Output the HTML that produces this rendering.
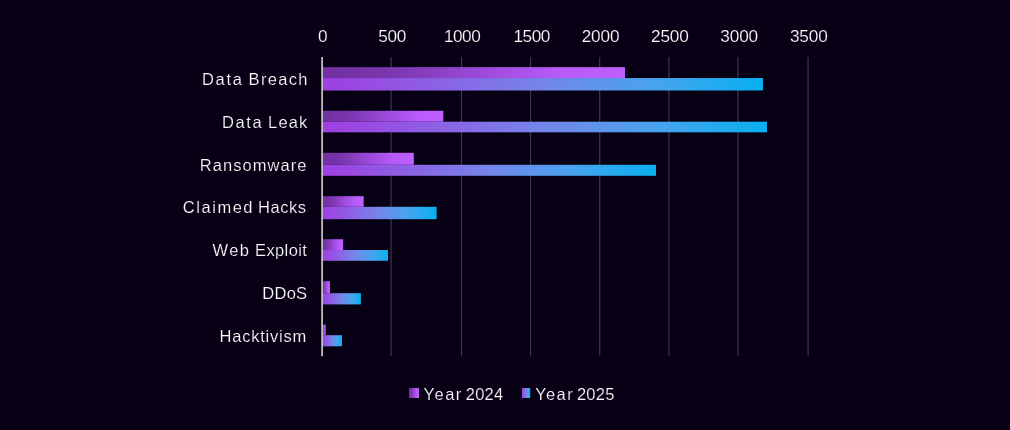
<!DOCTYPE html>
<html lang="en">
<head>
<meta charset="utf-8">
<title>Chart</title>
<style>
html,body{margin:0;padding:0;background:#080115;}
body{width:1010px;height:430px;overflow:hidden;}
svg{display:block;}
text{font-family:"Liberation Sans",sans-serif;fill:#ffffff;font-size:16.5px;stroke:#080115;stroke-width:0.2px;}
.ax{font-size:17.2px;}
</style>
</head>
<body>
<svg width="1010" height="430" viewBox="0 0 1010 430">
<defs>
<linearGradient id="g24" x1="0" y1="0" x2="1" y2="0">
<stop offset="0" stop-color="#7030a0"/>
<stop offset="0.22" stop-color="#7a36ae"/>
<stop offset="0.5" stop-color="#9a48d6"/>
<stop offset="0.78" stop-color="#b85afa"/>
<stop offset="1" stop-color="#bf5fff"/>
</linearGradient>
<linearGradient id="g25" x1="0" y1="0" x2="1" y2="0">
<stop offset="0" stop-color="#a03ee2"/>
<stop offset="0.25" stop-color="#8d60e4"/>
<stop offset="0.5" stop-color="#7486e9"/>
<stop offset="0.75" stop-color="#48a3ee"/>
<stop offset="1" stop-color="#08b0f0"/>
</linearGradient>
</defs>
<rect x="0" y="0" width="1010" height="430" fill="#080115"/>

<line x1="391.05" y1="56.9" x2="391.05" y2="355.8" stroke="#3a3a54" stroke-width="1.15"/>
<line x1="461.50" y1="56.9" x2="461.50" y2="355.8" stroke="#3a3a54" stroke-width="1.15"/>
<line x1="530.60" y1="56.9" x2="530.60" y2="355.8" stroke="#3a3a54" stroke-width="1.15"/>
<line x1="599.70" y1="56.9" x2="599.70" y2="355.8" stroke="#3a3a54" stroke-width="1.15"/>
<line x1="668.90" y1="56.9" x2="668.90" y2="355.8" stroke="#3a3a54" stroke-width="1.15"/>
<line x1="738.00" y1="56.9" x2="738.00" y2="355.8" stroke="#3a3a54" stroke-width="1.15"/>
<line x1="808.05" y1="56.9" x2="808.05" y2="355.8" stroke="#3a3a54" stroke-width="1.15"/>
<rect x="322.1" y="67.15" width="302.90" height="10.90" fill="url(#g24)"/>
<rect x="322.1" y="78.05" width="440.90" height="12.45" fill="url(#g25)"/>
<rect x="322.1" y="110.80" width="121.20" height="10.90" fill="url(#g24)"/>
<rect x="322.1" y="121.70" width="444.90" height="10.60" fill="url(#g25)"/>
<rect x="322.1" y="152.80" width="91.70" height="12.00" fill="url(#g24)"/>
<rect x="322.1" y="164.80" width="333.90" height="11.00" fill="url(#g25)"/>
<rect x="322.1" y="196.20" width="41.60" height="10.60" fill="url(#g24)"/>
<rect x="322.1" y="206.80" width="114.50" height="12.40" fill="url(#g25)"/>
<rect x="322.1" y="239.20" width="21.00" height="10.80" fill="url(#g24)"/>
<rect x="322.1" y="250.00" width="65.90" height="10.80" fill="url(#g25)"/>
<rect x="322.1" y="281.20" width="7.90" height="12.00" fill="url(#g24)"/>
<rect x="322.1" y="293.20" width="38.80" height="11.20" fill="url(#g25)"/>
<rect x="322.1" y="324.60" width="3.60" height="10.60" fill="url(#g24)"/>
<rect x="322.1" y="335.20" width="19.90" height="11.10" fill="url(#g25)"/>
<line x1="322.1" y1="56.9" x2="322.1" y2="356.2" stroke="#c8c8c8" stroke-width="1.7"/>
<text y="85.20"><tspan x="201.90" textLength="40.07" lengthAdjust="spacing">Data</tspan> <tspan x="248.57" textLength="58.84" lengthAdjust="spacing">Breach</tspan></text>
<text y="127.90"><tspan x="221.90" textLength="39.87" lengthAdjust="spacing">Data</tspan> <tspan x="268.07" textLength="39.30" lengthAdjust="spacing">Leak</tspan></text>
<text y="170.90"><tspan x="199.70" textLength="106.81" lengthAdjust="spacing">Ransomware</tspan></text>
<text y="213.30"><tspan x="182.86" textLength="69.69" lengthAdjust="spacing">Claimed</tspan> <tspan x="258.07" textLength="48.05" lengthAdjust="spacing">Hacks</tspan></text>
<text y="256.10"><tspan x="212.55" textLength="36.37" lengthAdjust="spacing">Web</tspan> <tspan x="255.07" textLength="51.76" lengthAdjust="spacing">Exploit</tspan></text>
<text y="299.20"><tspan x="262.33" textLength="44.73" lengthAdjust="spacing">DDoS</tspan></text>
<text y="342.00"><tspan x="219.56" textLength="86.62" lengthAdjust="spacing">Hacktivism</tspan></text>
<text class="ax" y="42.10"><tspan x="317.91">0</tspan></text>
<text class="ax" y="42.10"><tspan x="378.15" textLength="28.06" lengthAdjust="spacing">500</tspan></text>
<text class="ax" y="42.10"><tspan x="443.94" textLength="36.83" lengthAdjust="spacing">1000</tspan></text>
<text class="ax" y="42.10"><tspan x="513.61" textLength="36.60" lengthAdjust="spacing">1500</tspan></text>
<text class="ax" y="42.10"><tspan x="581.63" textLength="37.94" lengthAdjust="spacing">2000</tspan></text>
<text class="ax" y="42.10"><tspan x="651.04" textLength="37.81" lengthAdjust="spacing">2500</tspan></text>
<text class="ax" y="42.10"><tspan x="720.36" textLength="37.77" lengthAdjust="spacing">3000</tspan></text>
<text class="ax" y="42.10"><tspan x="789.92" textLength="37.83" lengthAdjust="spacing">3500</tspan></text>
<text y="399.70"><tspan x="423.42" textLength="37.93" lengthAdjust="spacing">Year</tspan> <tspan x="465.78" textLength="37.34" lengthAdjust="spacing">2024</tspan></text>
<text y="399.70"><tspan x="535.15" textLength="37.50" lengthAdjust="spacing">Year</tspan> <tspan x="576.89" textLength="37.50" lengthAdjust="spacing">2025</tspan></text>
<rect x="409" y="388" width="10" height="10" fill="url(#g24)"/>
<rect x="522" y="388" width="8.2" height="10" fill="url(#g25)"/>
</svg>
</body>
</html>
